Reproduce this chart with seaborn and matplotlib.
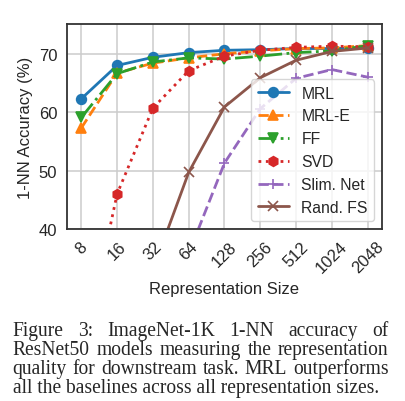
import matplotlib
matplotlib.use('Agg')
import matplotlib.pyplot as plt
import seaborn as sns
import numpy as np

# ---- data ----
sizes = ['8', '16', '32', '64', '128', '256', '512', '1024', '2048']
mrl = [62.3, 68.0, 69.4, 70.2, 70.6, 70.7, 70.9, 70.9, 71.0]
mrl_e = [57.3, 66.7, 68.4, 69.3, 70.0, 70.5, 70.9, 71.0, 71.4]
ff = [59.1, 66.6, 68.6, 69.3, 69.1, 69.6, 70.2, 70.5, 71.4]
svd = [17.4, 46.0, 60.7, 67.1, 69.6, 70.6, 71.1, 71.3, 71.2]
slim_net = [0.4, 1.0, 3.4, 35.8, 51.3, 60.6, 65.8, 67.3, 66.0]
rand_fs = [4.0, 16.0, 33.0, 49.7, 60.9, 65.9, 68.9, 70.4, 71.0]

series_names = ['MRL', 'MRL-E', 'FF', 'SVD', 'Slim. Net', 'Rand. FS']
caption_lines = [
    "Figure 3:  ImageNet-1K 1-NN accuracy of",
    "ResNet50 models measuring the representation",
    "quality for downstream task. MRL outperforms",
    "all the baselines across all representation sizes.",
]

sns.set_style('whitegrid', {'axes.edgecolor': '0.2'})
plt.rcParams['font.family'] = ['Liberation Sans', 'DejaVu Sans']
plt.rcParams['axes.linewidth'] = 1.3
plt.rcParams['grid.linewidth'] = 1.1

W, H = 406, 402
fig = plt.figure(figsize=(W / 100, H / 100), dpi=100)
ax = fig.add_axes([67 / W, 1 - 230 / H, (382 - 67) / W, (230 - 25) / H])

x = np.arange(len(sizes))
styles = [
    (mrl, '#1f77b4', '-', 'o'),
    (mrl_e, '#ff7f0e', '--', '^'),
    (ff, '#2ca02c', '-.', 'v'),
    (svd, '#d62728', ':', 'h'),
    (slim_net, '#9467bd', '--', '+'),
    (rand_fs, '#8c564b', '-', 'x'),
]
for name, (vals, c, ls, mk) in zip(series_names, styles):
    sns.lineplot(x=x, y=vals, ax=ax, color=c, linestyle=ls, marker=mk,
                 markersize=7, linewidth=2, label=name,
                 markeredgecolor=c, markeredgewidth=1.2)

ax.set_xlim(-0.4, 8.4)
ax.set_ylim(40, 75.1)
ax.set_yticks([40, 50, 60, 70])
ax.set_xticks(x)
ax.set_xticklabels(sizes, rotation=45, fontsize=12)
ax.tick_params(axis='y', labelsize=12)
ax.set_xlabel('Representation Size', fontsize=12)
ax.set_ylabel('1-NN Accuracy (%)', fontsize=12)
leg = ax.legend(loc='lower right', fontsize=11.3, framealpha=0.8)

# caption, justified; font size fitted so the last line is ~367 px wide
fig.canvas.draw()
r = fig.canvas.get_renderer()
x0, x1 = 12.7, 388.5
probe = fig.text(0, 0, caption_lines[-1], fontsize=10, family='Liberation Serif')
pw = probe.get_window_extent(r).width
probe.remove()
cap_fs = 10 * 367.0 / pw
baselines = [336, 355, 374, 393]
for i, line in enumerate(caption_lines):
    y = 1 - baselines[i] / H
    words = line.split()
    if i < len(caption_lines) - 1:
        texts = [fig.text(0, y, w, fontsize=cap_fs, family='Liberation Serif',
                          va='baseline', ha='left') for w in words]
        widths = [t.get_window_extent(r).width for t in texts]
        gap = (x1 - x0 - sum(widths)) / (len(words) - 1)
        xp = x0
        for t, w in zip(texts, widths):
            t.set_x(xp / W)
            xp += w + gap
    else:
        fig.text(x0 / W, y, line, fontsize=cap_fs, family='Liberation Serif',
                 va='baseline', ha='left')

fig.savefig('out.png', dpi=100)
